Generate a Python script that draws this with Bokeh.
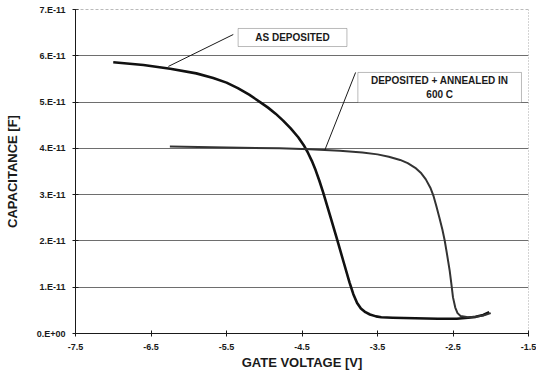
from bokeh.plotting import figure
from bokeh.models import (FixedTicker, CustomJSTickFormatter, Span, BoxAnnotation,
                          Label, Range1d)
from bokeh.embed import file_html
from bokeh.resources import INLINE

# ---- data (capacitance in units of 1e-11 F) ----
as_dep_v = [-7.0, -6.6, -6.245, -5.9, -5.676, -5.5, -5.35, -5.2, -5.055, -4.95,
            -4.85, -4.75, -4.65, -4.55, -4.47, -4.42, -4.37, -4.32, -4.27, -4.22,
            -4.13, -4.04, -3.95, -3.87, -3.82, -3.77, -3.72, -3.66, -3.6, -3.52,
            -3.45, -3.3, -3.0, -2.7, -2.45, -2.3, -2.2, -2.1, -2.02]
as_dep_c = [5.86, 5.80, 5.72, 5.62, 5.52, 5.42, 5.30, 5.16, 5.00, 4.88,
            4.75, 4.60, 4.43, 4.24, 4.05, 3.90, 3.73, 3.53, 3.30, 3.05,
            2.56, 2.06, 1.55, 1.10, 0.85, 0.66, 0.54, 0.46, 0.41, 0.37,
            0.35, 0.34, 0.33, 0.32, 0.32, 0.34, 0.36, 0.40, 0.46]

ann_v = [-6.25, -5.5, -4.8, -4.4, -4.0, -3.7, -3.5, -3.35, -3.2, -3.1,
         -3.0, -2.92, -2.86, -2.80, -2.76, -2.72, -2.68, -2.64, -2.61, -2.58,
         -2.544, -2.52, -2.50, -2.47, -2.44, -2.40, -2.3, -2.2, -2.1, -2.0]
ann_c = [4.04, 4.02, 4.00, 3.98, 3.95, 3.91, 3.87, 3.82, 3.75, 3.68,
         3.58, 3.46, 3.33, 3.15, 2.98, 2.75, 2.50, 2.24, 2.01, 1.72,
         1.36, 1.05, 0.78, 0.56, 0.44, 0.38, 0.35, 0.36, 0.39, 0.44]

SCALE = 1e-11
x_ticks = [-7.5, -6.5, -5.5, -4.5, -3.5, -2.5, -1.5]
y_ticks = [0, 1, 2, 3, 4, 5, 6, 7]

label1_text = "AS DEPOSITED"
label2_text = "DEPOSITED + ANNEALED IN\n600 C"
# annotation anchors (voltage, capacitance/1e-11)
box1 = dict(left=-5.346, right=-3.905, bottom=6.20, top=6.59)
box2 = dict(left=-3.76, right=-1.593, bottom=4.99, top=5.64)
lead1 = ([-5.41], [6.46], [-6.27], [5.77])
lead2 = ([-3.79], [5.64], [-4.196], [3.97])

FONT = "Liberation Sans"
INK = "#1a1a1a"

p = figure(width=536, height=375, output_backend="svg", toolbar_location=None,
           x_range=Range1d(-7.5, -1.5), y_range=Range1d(0, 7 * SCALE),
           min_border_left=75, min_border_right=8, min_border_top=9,
           min_border_bottom=42)
p.outline_line_color = None
p.background_fill_color = "white"

p.line(as_dep_v, [c * SCALE for c in as_dep_c],
       line_color="#111111", line_width=2.6, line_join="round")
p.line(ann_v, [c * SCALE for c in ann_c],
       line_color="#333333", line_width=2.0, line_join="round")

# axes
for ax in (p.xaxis[0], p.yaxis[0]):
    ax.axis_line_color = INK
    ax.major_tick_line_color = INK
    ax.major_tick_in = 3
    ax.major_tick_out = 3
    ax.minor_tick_line_color = None
    ax.major_label_text_font = FONT
    ax.major_label_text_font_style = "bold"
    ax.major_label_text_font_size = "9px"
    ax.major_label_text_color = INK
    ax.axis_label_text_font = FONT
    ax.axis_label_text_font_style = "bold"
    ax.axis_label_text_font_size = "13px"
    ax.axis_label_text_color = INK

p.xaxis.ticker = FixedTicker(ticks=x_ticks)
p.xaxis.formatter = CustomJSTickFormatter(code="return tick.toFixed(1);")
p.yaxis.ticker = FixedTicker(ticks=[t * SCALE for t in y_ticks])
p.yaxis.formatter = CustomJSTickFormatter(code="""
    const n = Math.round(tick * 1e11);
    return n == 0 ? "0.E+00" : n + ".E-11";
""")
p.xaxis.axis_label = "GATE VOLTAGE [V]"
p.yaxis.axis_label = "CAPACITANCE [F]"
p.xaxis.major_label_standoff = 7
p.yaxis.major_label_standoff = 7
p.xaxis.axis_label_standoff = 2
p.yaxis.axis_label_standoff = 14

p.xgrid.grid_line_color = None
p.ygrid.ticker = FixedTicker(ticks=[t * SCALE for t in y_ticks[1:-1]])
p.ygrid.grid_line_color = "#6e6e6e"
p.ygrid.grid_line_width = 1.2

p.add_layout(Span(location=7 * SCALE, dimension="width", line_color="#777777",
                  line_width=1, line_dash="3 2"))
p.add_layout(Span(location=-1.5, dimension="height", line_color="#555555",
                  line_width=1, line_dash="1 2"))

# annotations
for b in (box1, box2):
    p.add_layout(BoxAnnotation(left=b["left"], right=b["right"],
                               bottom=b["bottom"] * SCALE, top=b["top"] * SCALE,
                               fill_color="white", fill_alpha=1.0,
                               line_color=INK, line_width=1,
                               level="overlay"))
for x0, y0, x1, y1 in (lead1, lead2):
    p.segment(x0, [y * SCALE for y in y0], x1, [y * SCALE for y in y1],
              line_color=INK, line_width=1)

p.add_layout(Label(x=(box1["left"] + box1["right"]) / 2,
                   y=(box1["bottom"] + box1["top"]) / 2 * SCALE,
                   text=label1_text, text_align="center", text_baseline="middle",
                   text_font=FONT, text_font_style="bold", text_font_size="10px",
                   text_color=INK, level="overlay"))
p.add_layout(Label(x=(box2["left"] + box2["right"]) / 2,
                   y=(box2["bottom"] + box2["top"]) / 2 * SCALE,
                   text=label2_text, text_align="center", text_baseline="middle",
                   text_font=FONT, text_font_style="bold", text_font_size="10px",
                   text_color=INK, text_line_height=1.3, level="overlay"))

open("out.html", "w").write(file_html(p, INLINE))
